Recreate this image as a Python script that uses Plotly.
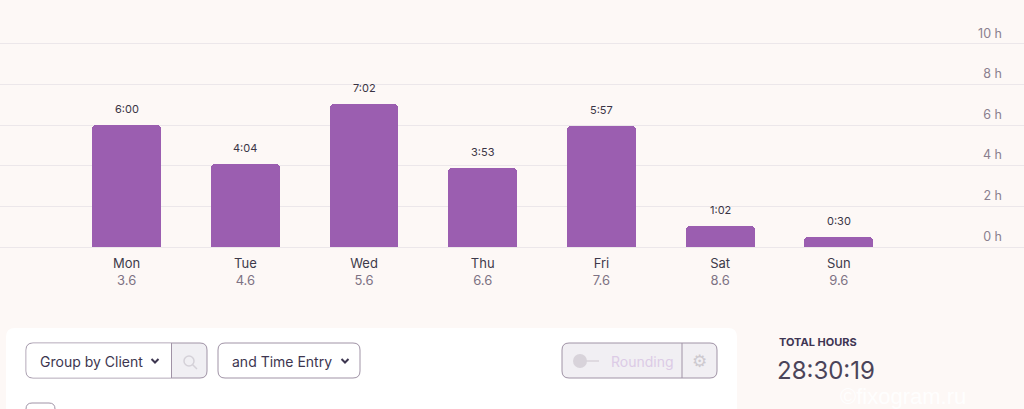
import plotly.graph_objects as go

# ---- data ----
days = ["Mon", "Tue", "Wed", "Thu", "Fri", "Sat", "Sun"]
dates = ["3.6", "4.6", "5.6", "6.6", "7.6", "8.6", "9.6"]
duration_labels = ["6:00", "4:04", "7:02", "3:53", "5:57", "1:02", "0:30"]
minutes = [360, 244, 422, 233, 357, 62, 30]
y_tick_values = [0, 2, 4, 6, 8, 10]
y_tick_labels = ["0 h", "2 h", "4 h", "6 h", "8 h", "10 h"]
total_hours_label = "28:30:19"

hours = [m / 60 for m in minutes]
xs = list(range(len(days)))

W, H = 1024, 409
MT, MB = 0, 162
PLOT_H = H - MT - MB

BG = "#fdf8f6"
BAR = "#9b5eb0"
GRID = "#ece7ea"
DARK = "#3d3650"


def X(p):
    return p / W


def Y(p):
    return (PLOT_H - (p - MT)) / PLOT_H


def rrect(x0, y0, x1, y1, r):
    # rounded rectangle path in pixel space -> paper space
    pts = [
        f"M{X(x0 + r)},{Y(y0)}",
        f"L{X(x1 - r)},{Y(y0)}",
        f"Q{X(x1)},{Y(y0)} {X(x1)},{Y(y0 + r)}",
        f"L{X(x1)},{Y(y1 - r)}",
        f"Q{X(x1)},{Y(y1)} {X(x1 - r)},{Y(y1)}",
        f"L{X(x0 + r)},{Y(y1)}",
        f"Q{X(x0)},{Y(y1)} {X(x0)},{Y(y1 - r)}",
        f"L{X(x0)},{Y(y0 + r)}",
        f"Q{X(x0)},{Y(y0)} {X(x0 + r)},{Y(y0)}",
        "Z",
    ]
    return " ".join(pts)


fig = go.Figure()
fig.add_trace(
    go.Bar(
        x=xs,
        y=hours,
        width=0.58,
        marker=dict(color=BAR, cornerradius=4, line=dict(width=0)),
        hoverinfo="skip",
    )
)

annotations = []
for i, (h, lab) in enumerate(zip(hours, duration_labels)):
    annotations.append(
        dict(
            x=i, y=h, xref="x", yref="y", text=lab, showarrow=False,
            yanchor="bottom", yshift=7,
            font=dict(family="Inter", size=11, color="#3a3445"),
        )
    )

shapes = []
# white panel
shapes.append(dict(type="path", xref="paper", yref="paper",
                   path=rrect(6, 328, 737, 440, 9),
                   fillcolor="#ffffff", line=dict(width=0), layer="below"))
# Group by Client box (search part grey)
shapes.append(dict(type="path", xref="paper", yref="paper",
                   path=rrect(26, 343, 207, 378, 7),
                   fillcolor="#f0eff3", line=dict(color="#a093a6", width=1)))
shapes.append(dict(type="path", xref="paper", yref="paper",
                   path=(f"M{X(33)},{Y(343.5)} L{X(171.5)},{Y(343.5)} L{X(171.5)},{Y(377.5)} "
                         f"L{X(33)},{Y(377.5)} Q{X(26.5)},{Y(377.5)} {X(26.5)},{Y(371)} "
                         f"L{X(26.5)},{Y(350)} Q{X(26.5)},{Y(343.5)} {X(33)},{Y(343.5)} Z"),
                   fillcolor="#ffffff", line=dict(width=0)))
shapes.append(dict(type="line", xref="paper", yref="paper",
                   x0=X(171.5), x1=X(171.5), y0=Y(343), y1=Y(378),
                   line=dict(color="#a093a6", width=1)))
# search icon
shapes.append(dict(type="circle", xref="paper", yref="paper",
                   x0=X(184), x1=X(194), y0=Y(356), y1=Y(366),
                   line=dict(color="#d4d1d8", width=1.5)))
shapes.append(dict(type="line", xref="paper", yref="paper",
                   x0=X(192.5), x1=X(197), y0=Y(364.5), y1=Y(369),
                   line=dict(color="#d4d1d8", width=1.5)))
# and Time Entry box
shapes.append(dict(type="path", xref="paper", yref="paper",
                   path=rrect(218, 343, 360, 378, 7),
                   fillcolor="#ffffff", line=dict(color="#a093a6", width=1)))
# chevrons
for cx in (155, 345):
    shapes.append(dict(type="path", xref="paper", yref="paper",
                       path=f"M{X(cx - 3.5)},{Y(359)} L{X(cx)},{Y(362.5)} L{X(cx + 3.5)},{Y(359)}",
                       line=dict(color="#3d3650", width=2)))
# Rounding box
shapes.append(dict(type="path", xref="paper", yref="paper",
                   path=rrect(562, 343, 717, 378, 7),
                   fillcolor="#f1eff3", line=dict(color="#a093a6", width=1)))
shapes.append(dict(type="line", xref="paper", yref="paper",
                   x0=X(682), x1=X(682), y0=Y(343), y1=Y(378),
                   line=dict(color="#a093a6", width=1)))
# toggle
shapes.append(dict(type="line", xref="paper", yref="paper",
                   x0=X(584), x1=X(599), y0=Y(361), y1=Y(361),
                   line=dict(color="#d8d3da", width=1.5)))
shapes.append(dict(type="circle", xref="paper", yref="paper",
                   x0=X(573), x1=X(587), y0=Y(354), y1=Y(368),
                   fillcolor="#d8d3da", line=dict(width=0)))
# checkbox at bottom
shapes.append(dict(type="path", xref="paper", yref="paper",
                   path=rrect(26, 403, 55, 430, 6),
                   fillcolor="#ffffff", line=dict(color="#a093a6", width=1)))

texts = [
    (38, 361, "Group by Client", 14, DARK, "left", "Inter"),
    (230, 361, "and Time Entry", 14, DARK, "left", "Inter"),
    (609, 361, "Rounding", 14, "#dccbe6", "left", "Inter"),
    (699.5, 361, "⚙", 17, "#cdc9cf", "center", "DejaVu Sans"),
    (777, 342, "<b>TOTAL HOURS</b>", 11, "#3e3553", "left", "Inter"),
    (775, 371, total_hours_label, 24, "#4b4459", "left", "Inter"),
    (838, 396, "©fixogram.ru", 22, "rgba(255,255,255,0.95)", "left", "Arial"),
]
for px, py, t, sz, col, anc, fam in texts:
    annotations.append(dict(
        x=X(px), y=Y(py), xref="paper", yref="paper", text=t, showarrow=False,
        xanchor=anc, yanchor="middle",
        font=dict(family=fam, size=sz, color=col),
    ))

ticktext = [f"{d}<br><span style='color:#7d7284'>{dt}</span>" for d, dt in zip(days, dates)]

fig.update_layout(
    width=W, height=H,
    margin=dict(l=0, r=0, t=MT, b=MB, pad=0),
    paper_bgcolor=BG, plot_bgcolor=BG,
    showlegend=False,
    bargap=0,
    font=dict(family="Inter", color=DARK),
    shapes=shapes,
    annotations=annotations,
    xaxis=dict(
        range=[-1.067, 7.56], tickvals=xs, ticktext=ticktext,
        showgrid=False, zeroline=False, showline=False,
        ticks="outside", ticklen=4, tickcolor="rgba(0,0,0,0)",
        tickfont=dict(family="Inter", size=13, color="#3d3a4a"),
        fixedrange=True,
    ),
    yaxis=dict(
        range=[0, 12.167], tickvals=y_tick_values, ticktext=y_tick_labels,
        side="right", ticklabelposition="inside top", ticks="",
        ticklabelstandoff=19, ticklabelshift=-2,
        showgrid=True, gridcolor=GRID, gridwidth=1,
        zeroline=True, zerolinecolor=GRID, zerolinewidth=1,
        tickfont=dict(family="Inter", size=12.5, color="#8a7f8e"),
        fixedrange=True,
    ),
)

fig.write_html(
    "out.html",
    config={"displayModeBar": False},
    post_script="document.body.style.margin='0';document.body.style.overflow='hidden';",
)
